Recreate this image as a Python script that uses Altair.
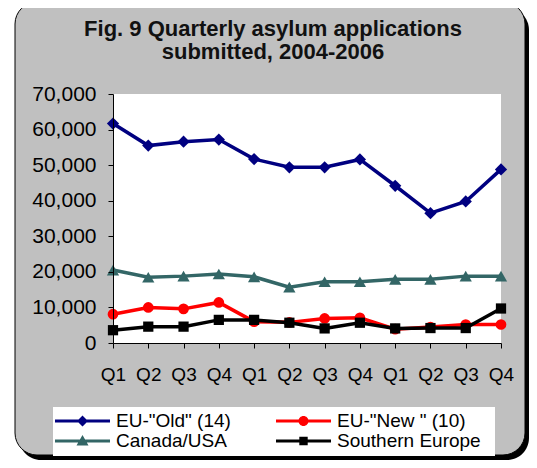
import altair as alt
import pandas as pd

# ---------------- data ----------------
quarter_labels = ["Q1", "Q2", "Q3", "Q4", "Q1", "Q2", "Q3", "Q4", "Q1", "Q2", "Q3", "Q4"]
series_names = ['EU-"Old" (14)', 'EU-"New " (10)', "Canada/USA", "Southern Europe"]
eu_old = [61700, 55500, 56600, 57200, 51700, 49400, 49400, 51600, 44200, 36500, 39800, 48800]
eu_new = [8100, 10000, 9600, 11400, 6000, 5800, 6900, 7100, 3900, 4500, 5200, 5200]
canada_usa = [20500, 18500, 18800, 19400, 18600, 15700, 17200, 17200, 17900, 17900, 18800, 18800]
southern = [3600, 4600, 4600, 6500, 6500, 5700, 4100, 5700, 4100, 4200, 4200, 9700]
series_colors = ["#000080", "#FF0000", "#336666", "#000000"]
marker_shapes = ["diamond", "circle", "triangle-up", "square"]
marker_sizes = [150, 115, 150, 105]
draw_order = [0, 2, 1, 3]
title_lines = ["Fig. 9 Quarterly asylum applications", "submitted, 2004-2006"]

values = [eu_old, eu_new, canada_usa, southern]
rows = []
for k, (name, vals) in enumerate(zip(series_names, values)):
    for i, v in enumerate(vals):
        rows.append({"idx": i, "quarter": quarter_labels[i], "series": name, "k": k, "value": v})
df = pd.DataFrame(rows)

# ---------------- layout constants ----------------
W, H = 388, 249
FONT = "Liberation Sans"


def legend_path(marker):
    line = "M-1,-0.15H4.5V0.15H-1Z"
    c = 1.75
    if marker == "diamond":
        m = f"M{c},-0.55L{c+0.55},0L{c},0.55L{c-0.55},0Z"
    elif marker == "circle":
        m = f"M{c-0.5},0A0.5,0.5,0,1,1,{c+0.5},0A0.5,0.5,0,1,1,{c-0.5},0Z"
    elif marker == "triangle-up":
        m = f"M{c},-0.6L{c+0.6},0.45L{c-0.6},0.45Z"
    else:
        m = f"M{c-0.42},-0.42H{c+0.42}V0.42H{c-0.42}Z"
    return line + m


color_scale = alt.Scale(domain=series_names, range=series_colors)
x_enc = alt.X(
    "idx:Q",
    scale=alt.Scale(domain=[0, 11], nice=False, zero=False),
    axis=alt.Axis(
        values=list(range(12)),
        labelExpr="[" + ",".join(f"'{q}'" for q in quarter_labels) + "][datum.value]",
        title=None,
        grid=False,
        domainColor="black",
        tickColor="black",
        tickSize=5,
        labelPadding=17,
        labelFont=FONT,
        labelFontSize=19,
        labelColor="black",
        labelBaseline="top",
        labelOverlap=False,
        labelFlush=False,
        zindex=1,
    ),
)
y_enc = alt.Y(
    "value:Q",
    scale=alt.Scale(domain=[0, 70000], nice=False),
    axis=alt.Axis(
        values=list(range(0, 70001, 10000)),
        format=",.0f",
        title=None,
        grid=False,
        domainColor="black",
        tickColor="black",
        tickSize=5,
        labelPadding=12,
        labelFont=FONT,
        labelFontSize=21,
        labelColor="black",
        labelOverlap=False,
        labelFlush=False,
        zindex=1,
    ),
)

one = pd.DataFrame({"a": [0]})
shadow = alt.Chart(one).mark_rect(color="black", cornerRadius=22).encode(
    x=alt.value(-94), x2=alt.value(416), y=alt.value(-86), y2=alt.value(366)
)
frame = alt.Chart(one).mark_rect(
    color="#C0C0C0", stroke="black", strokeWidth=1, cornerRadius=22
).encode(x=alt.value(-98), x2=alt.value(412), y=alt.value(-92), y2=alt.value(361))
plot_bg = alt.Chart(one).mark_rect(color="white").encode(
    x=alt.value(0), x2=alt.value(W), y=alt.value(0), y2=alt.value(H)
)
legend_bg = alt.Chart(one).mark_rect(color="white").encode(
    x=alt.value(-60), x2=alt.value(382), y=alt.value(313), y2=alt.value(362)
)
title = alt.Chart(one).mark_text(
    font=FONT, fontSize=22, fontWeight="bold", color="#111111",
    align="center", baseline="alphabetic", lineBreak="\n", lineHeight=23,
).encode(x=alt.value(160), y=alt.value(-58), text=alt.value("\n".join(title_lines)))

base = alt.Chart(df)

leg_common = dict(
    title=None,
    orient="none",
    direction="horizontal",
    legendX=-64,
    legendY=311,
    columns=2,
    columnPadding=45,
    rowPadding=0,
    padding=6,
    symbolSize=400,
    symbolStrokeWidth=0,
    symbolOpacity=1,
    labelOffset=41,
    labelFont=FONT,
    labelFontSize=19,
    labelColor="black",
    labelLimit=300,
    zindex=2,
)
legend_layer = base.mark_point(filled=True, opacity=0).encode(
    x=x_enc,
    y=y_enc,
    color=alt.Color("series:N", scale=color_scale, legend=alt.Legend(**leg_common)),
    shape=alt.Shape(
        "series:N",
        scale=alt.Scale(domain=series_names, range=[legend_path(m) for m in marker_shapes]),
        legend=alt.Legend(**leg_common),
    ),
)

layers = [shadow, frame, plot_bg, legend_bg, title, legend_layer]
for k in draw_order:
    sub = base.transform_filter(alt.datum.k == k)
    layers.append(
        sub.mark_line(strokeWidth=3.5).encode(
            x=x_enc, y=y_enc, color=alt.Color("series:N", scale=color_scale, legend=None)
        )
    )
    layers.append(
        sub.mark_point(filled=True, opacity=1, shape=marker_shapes[k], size=marker_sizes[k], strokeWidth=0).encode(
            x=x_enc, y=y_enc, color=alt.Color("series:N", scale=color_scale, legend=None)
        )
    )

chart = (
    alt.layer(*layers)
    .properties(
        width=W,
        height=H,
        autosize=alt.AutoSizeParams(type="none"),
        padding={"left": 105, "top": 86, "right": 28, "bottom": 117},
        background="white",
    )
    .configure_view(stroke=None)
)

chart.save("out.html", embed_options={"renderer": "svg", "actions": False})
